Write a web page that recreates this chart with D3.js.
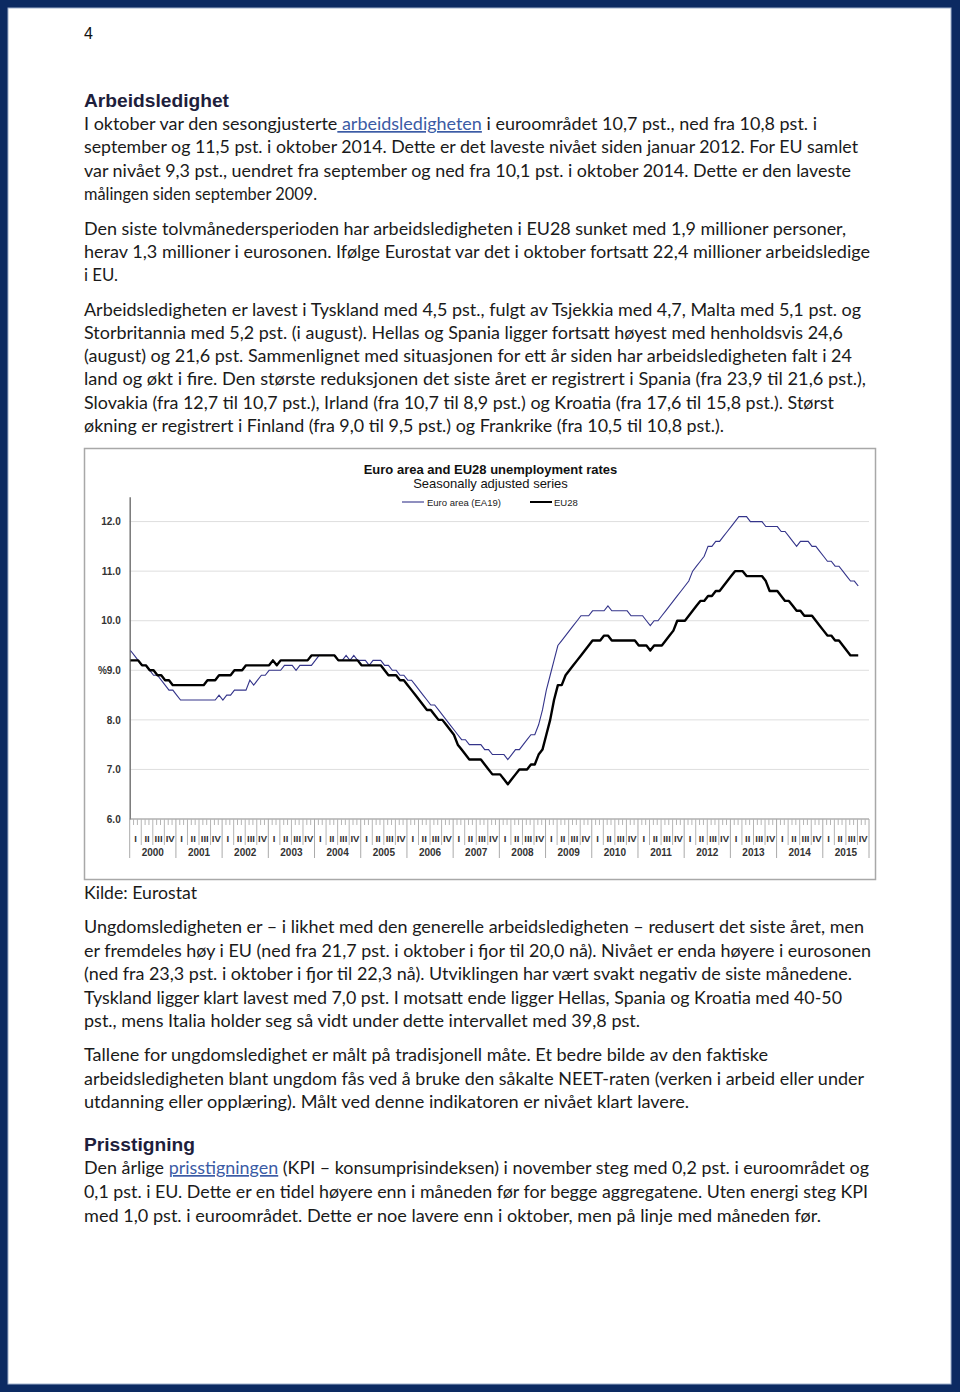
<!DOCTYPE html>
<html><head><meta charset="utf-8">
<script src="https://cdn.jsdelivr.net/npm/d3@7/dist/d3.min.js"></script>
<style>body{margin:0;background:#fff}svg{display:block}</style>
</head><body><svg id="page" width="960" height="1396"></svg>
<script>
// ---------------- DATA ----------------
const years = [2000,2001,2002,2003,2004,2005,2006,2007,2008,2009,2010,2011,2012,2013,2014,2015];
const quarters = ["I","II","III","IV"];
const yTicks = [6,7,8,9,10,11,12];
const yTickLabels = ["6.0","7.0","8.0","%9.0","10.0","11.0","12.0"];
const seriesNames = ["Euro area (EA19)","EU28"];
// monthly, Jan 2000 .. Oct 2015
const ea19 = [
 9.4,9.3,9.2,9.1,9.1,9.0,8.9,8.9,8.8,8.7,8.6,8.6,
 8.5,8.4,8.4,8.4,8.4,8.4,8.4,8.4,8.4,8.4,8.4,8.5,
 8.4,8.5,8.5,8.6,8.6,8.6,8.6,8.8,8.7,8.8,8.9,8.9,
 9.0,9.0,9.0,9.0,9.1,9.1,9.1,9.0,9.1,9.1,9.1,9.1,
 9.2,9.3,9.3,9.3,9.3,9.3,9.2,9.2,9.3,9.2,9.3,9.2,
 9.2,9.2,9.1,9.2,9.2,9.2,9.1,9.1,9.0,9.0,8.9,8.9,
 8.8,8.8,8.7,8.6,8.5,8.4,8.3,8.3,8.2,8.1,8.0,7.9,
 7.8,7.7,7.6,7.6,7.5,7.5,7.5,7.5,7.4,7.4,7.3,7.3,
 7.3,7.3,7.2,7.3,7.4,7.4,7.5,7.6,7.7,7.7,7.9,8.2,
 8.6,8.9,9.2,9.5,9.6,9.7,9.8,9.9,10.0,10.1,10.1,10.1,
 10.2,10.2,10.2,10.2,10.3,10.2,10.2,10.2,10.2,10.2,10.1,10.1,
 10.1,10.1,10.0,9.9,10.0,10.0,10.1,10.2,10.3,10.4,10.5,10.6,
 10.7,10.8,11.0,11.1,11.2,11.3,11.5,11.5,11.6,11.6,11.7,11.8,
 11.9,12.0,12.1,12.1,12.1,12.0,12.0,12.0,12.0,11.9,11.9,11.9,
 11.9,11.8,11.8,11.7,11.6,11.5,11.6,11.6,11.6,11.5,11.5,11.4,
 11.3,11.2,11.2,11.1,11.1,11.0,10.9,10.8,10.8,10.7
];
const eu28 = [
 9.2,9.2,9.2,9.1,9.1,9.0,9.0,8.9,8.9,8.8,8.8,8.7,
 8.7,8.7,8.7,8.7,8.7,8.7,8.7,8.7,8.8,8.8,8.8,8.9,
 8.9,8.9,8.9,9.0,9.0,9.0,9.1,9.1,9.1,9.1,9.1,9.1,
 9.1,9.2,9.1,9.2,9.2,9.2,9.2,9.2,9.2,9.2,9.2,9.3,
 9.3,9.3,9.3,9.3,9.3,9.3,9.2,9.2,9.2,9.2,9.2,9.2,
 9.1,9.1,9.1,9.1,9.1,9.1,9.0,8.9,8.9,8.9,8.8,8.8,
 8.7,8.6,8.5,8.4,8.3,8.2,8.2,8.1,8.0,8.0,7.9,7.8,
 7.7,7.5,7.4,7.3,7.2,7.2,7.2,7.2,7.1,7.0,6.9,6.9,
 6.9,6.8,6.7,6.8,6.9,7.0,7.0,7.0,7.1,7.1,7.3,7.4,
 7.7,8.0,8.4,8.7,8.7,8.9,9.0,9.1,9.2,9.3,9.4,9.5,
 9.6,9.6,9.6,9.7,9.7,9.6,9.6,9.6,9.6,9.6,9.6,9.6,
 9.5,9.5,9.5,9.4,9.5,9.5,9.5,9.6,9.7,9.8,10.0,10.0,
 10.0,10.1,10.2,10.3,10.4,10.4,10.5,10.5,10.6,10.6,10.7,10.8,
 10.9,11.0,11.0,11.0,10.9,10.9,10.9,10.9,10.9,10.8,10.6,10.6,
 10.6,10.5,10.4,10.4,10.3,10.2,10.2,10.1,10.1,10.1,10.0,9.9,
 9.8,9.7,9.7,9.6,9.6,9.5,9.4,9.3,9.3,9.3
];
const chartTitle = "Euro area and EU28 unemployment rates";
const chartSubtitle = "Seasonally adjusted series";

// ---------------- TEXT ----------------
// each line: array of [string, isLink]
const para1 = [
 [["I oktober var den sesongjusterte",0],[" arbeidsledigheten",1],[" i euroområdet 10,7 pst., ned fra 10,8 pst. i",0]],
 [["september og 11,5 pst. i oktober 2014. Dette er det laveste nivået siden januar 2012. For EU samlet",0]],
 [["var nivået 9,3 pst., uendret fra september og ned fra 10,1 pst. i oktober 2014. Dette er den laveste",0]],
 [["målingen siden september 2009.",0]]
];
const para2 = [
 [["Den siste tolvmånedersperioden har arbeidsledigheten i EU28 sunket med 1,9 millioner personer,",0]],
 [["herav 1,3 millioner i eurosonen. Ifølge Eurostat var det i oktober fortsatt 22,4 millioner arbeidsledige",0]],
 [["i EU.",0]]
];
const para3 = [
 [["Arbeidsledigheten er lavest i Tyskland med 4,5 pst., fulgt av Tsjekkia med 4,7, Malta med 5,1 pst. og",0]],
 [["Storbritannia med 5,2 pst. (i august). Hellas og Spania ligger fortsatt høyest med henholdsvis 24,6",0]],
 [["(august) og 21,6 pst. Sammenlignet med situasjonen for ett år siden har arbeidsledigheten falt i 24",0]],
 [["land og økt i fire. Den største reduksjonen det siste året er registrert i Spania (fra 23,9 til 21,6 pst.),",0]],
 [["Slovakia (fra 12,7 til 10,7 pst.), Irland (fra 10,7 til 8,9 pst.) og Kroatia (fra 17,6 til 15,8 pst.). Størst",0]],
 [["økning er registrert i Finland (fra 9,0 til 9,5 pst.) og Frankrike (fra 10,5 til 10,8 pst.).",0]]
];
const source = [[["Kilde: Eurostat",0]]];
const para4 = [
 [["Ungdomsledigheten er – i likhet med den generelle arbeidsledigheten – redusert det siste året, men",0]],
 [["er fremdeles høy i EU (ned fra 21,7 pst. i oktober i fjor til 20,0 nå). Nivået er enda høyere i eurosonen",0]],
 [["(ned fra 23,3 pst. i oktober i fjor til 22,3 nå). Utviklingen har vært svakt negativ de siste månedene.",0]],
 [["Tyskland ligger klart lavest med 7,0 pst. I motsatt ende ligger Hellas, Spania og Kroatia med 40-50",0]],
 [["pst., mens Italia holder seg så vidt under dette intervallet med 39,8 pst.",0]]
];
const para5 = [
 [["Tallene for ungdomsledighet er målt på tradisjonell måte. Et bedre bilde av den faktiske",0]],
 [["arbeidsledigheten blant ungdom fås ved å bruke den såkalte NEET-raten (verken i arbeid eller under",0]],
 [["utdanning eller opplæring). Målt ved denne indikatoren er nivået klart lavere.",0]]
];
const para6 = [
 [["Den årlige ",0],["prisstigningen",1],[" (KPI – konsumprisindeksen) i november steg med 0,2 pst. i euroområdet og",0]],
 [["0,1 pst. i EU. Dette er en tidel høyere enn i måneden før for begge aggregatene. Uten energi steg KPI",0]],
 [["med 1,0 pst. i euroområdet. Dette er noe lavere enn i oktober, men på linje med måneden før.",0]]
];

// ---------------- LAYOUT ----------------
const svg = d3.select("#page");
const NAVY = "#0c2a62";
const LEFT = 84;

// page frame
svg.append("rect").attr("x",0).attr("y",0).attr("width",960).attr("height",1392).attr("fill",NAVY);
svg.append("rect").attr("x",8).attr("y",8).attr("width",943).attr("height",1376).attr("fill","#fff")
   .attr("stroke","#9fb0cc").attr("stroke-width",1);

svg.append("text").attr("x",LEFT).attr("y",39).attr("font-family","Liberation Sans, Arial")
   .attr("font-size",16).attr("fill","#111").text("4");

function heading(txt, y, w){
  svg.append("text").attr("x",LEFT).attr("y",y).attr("font-family","Liberation Sans, Arial")
    .attr("font-weight","bold").attr("font-size",18).attr("fill","#1e1e3c")
    .attr("textLength",w).attr("lengthAdjust","spacingAndGlyphs").text(txt);
}
function para(lines, baselines, ends){
  lines.forEach((segs,i)=>{
    const t = svg.append("text").attr("x",LEFT).attr("y",baselines[i])
      .attr("font-family","Lato, Open Sans, sans-serif").attr("font-size",17).attr("fill","#1a1a1a")
      .attr("textLength",ends[i]-LEFT).attr("lengthAdjust","spacingAndGlyphs")
      .style("white-space","pre");
    segs.forEach(([s,link])=>{
      const ts = t.append("tspan").text(s);
      if(link) ts.attr("fill","#3b5ba5").style("text-decoration","underline");
    });
  });
}
heading("Arbeidsledighet",107,145);
para(para1,[130,153,177,200],[817,858,851,317]);
para(para2,[235,258,281],[846,870,118]);
para(para3,[316,339,362,385,409,432],[861,843,852,866,834,724]);
para(source,[899],[197]);
para(para4,[933,957,980,1004,1027],[864,871,852,842,640]);
para(para5,[1061,1085,1108],[768,864,689]);
heading("Prisstigning",1151,111);
para(para6,[1174,1198,1222],[869,868,821]);

// ---------------- CHART ----------------
const box = svg.append("g");
box.append("rect").attr("x",84.5).attr("y",448.5).attr("width",791).attr("height",431)
  .attr("fill","#fff").attr("stroke","#a8a8a8").attr("stroke-width",1.5);

const x = d3.scaleLinear().domain([0,192]).range([129.7,869]);
const y = d3.scaleLinear().domain([6,12.5]).range([819,496.8]);
const g = svg.append("g");

// gridlines
g.selectAll(".grid").data(yTicks.filter(d=>d>6)).enter().append("line")
  .attr("x1",x(0)).attr("x2",x(192)).attr("y1",d=>y(d)).attr("y2",d=>y(d))
  .attr("stroke","#dedede").attr("stroke-width",1);

// y axis
const yAxis = d3.axisLeft(y).tickValues(yTicks).tickSize(0).tickPadding(9)
  .tickFormat((d,i)=>yTickLabels[i]);
const ya = g.append("g").attr("transform",`translate(${x(0)},0)`).call(yAxis);
ya.select(".domain").attr("stroke","#777").attr("stroke-width",1.5);
ya.selectAll("text").attr("font-family","Liberation Sans, Arial").attr("font-size",10)
  .attr("font-weight","bold").attr("fill","#333");

// x axis: monthly ticks
const months = d3.range(0,193);
const xa = g.append("g");
xa.append("line").attr("x1",x(0)).attr("x2",x(192)).attr("y1",819).attr("y2",819)
  .attr("stroke","#888").attr("stroke-width",1);
xa.selectAll(".mt").data(months).enter().append("line")
  .attr("x1",d=>x(d)).attr("x2",d=>x(d)).attr("y1",819)
  .attr("y2",d=> d%12===0 ? 858 : (d%3===0 ? 845 : 825))
  .attr("y1",d=> (d%3===0 && d%12!==0) ? 819 : 819)
  .attr("stroke",d=> d%12===0 ? "#aaa" : "#b5b5b5").attr("stroke-width",1);
// quarter labels
const qdata = [];
years.forEach((yr,yi)=>quarters.forEach((q,qi)=>qdata.push({q, m: yi*12+qi*3+1.5})));
xa.selectAll(".ql").data(qdata).enter().append("text")
  .attr("x",d=>x(d.m)).attr("y",841.5).attr("text-anchor","middle")
  .attr("font-family","Liberation Sans, Arial").attr("font-size",9.5).attr("font-weight","bold")
  .attr("fill","#333").text(d=>d.q);
xa.selectAll(".yl").data(years).enter().append("text")
  .attr("x",(d,i)=>x(i*12+6)).attr("y",856).attr("text-anchor","middle")
  .attr("font-family","Liberation Sans, Arial").attr("font-size",10).attr("font-weight","bold")
  .attr("fill","#333").text(d=>d);

// lines
const line = d3.line().x((d,i)=>x(i+0.2)).y(d=>y(d));
g.append("path").datum(ea19).attr("d",line).attr("fill","none")
  .attr("stroke","#34348a").attr("stroke-width",1.1);
g.append("path").datum(eu28).attr("d",line).attr("fill","none")
  .attr("stroke","#000").attr("stroke-width",2.4).attr("stroke-linejoin","round");

// titles
g.append("text").attr("x",490.5).attr("y",474).attr("text-anchor","middle")
  .attr("font-family","Liberation Sans, Arial").attr("font-weight","bold").attr("font-size",13)
  .attr("fill","#111").text(chartTitle);
g.append("text").attr("x",490.5).attr("y",488).attr("text-anchor","middle")
  .attr("font-family","Liberation Sans, Arial").attr("font-size",13)
  .attr("fill","#111").text(chartSubtitle);

// legend
const leg = [{x1:402,x2:424,c:"#34348a",w:1.1,tx:427,t:seriesNames[0]},
             {x1:530,x2:552,c:"#000",w:2,tx:554,t:seriesNames[1]}];
leg.forEach(l=>{
  g.append("line").attr("x1",l.x1).attr("x2",l.x2).attr("y1",502).attr("y2",502)
    .attr("stroke",l.c).attr("stroke-width",l.w);
  g.append("text").attr("x",l.tx).attr("y",505.5).attr("font-family","Liberation Sans, Arial")
    .attr("font-size",9.5).attr("fill","#222").text(l.t);
});
</script>
</body></html>
